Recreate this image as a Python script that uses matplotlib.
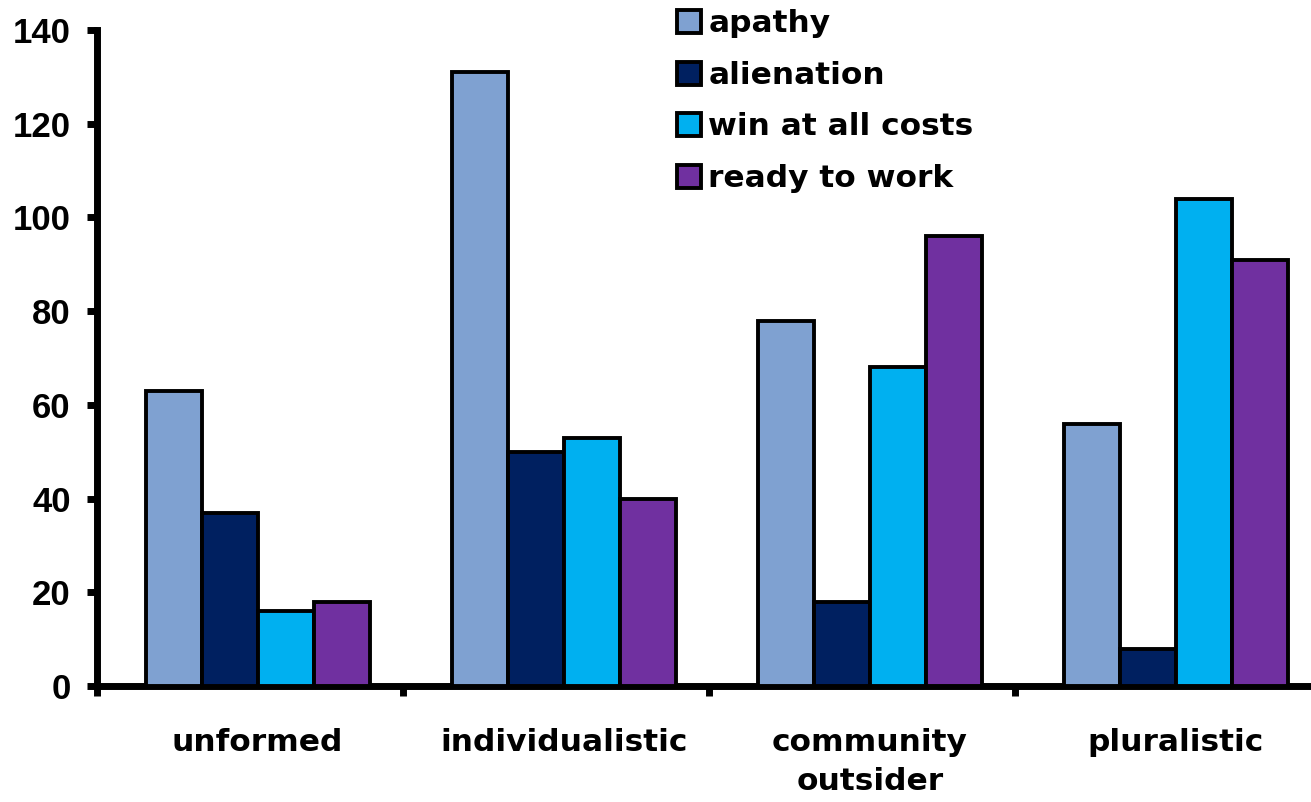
import numpy as np
import matplotlib.pyplot as plt

categories = ["unformed", "individualistic", "community\noutsider", "pluralistic"]
series_names = ["apathy", "alienation", "win at all costs", "ready to work"]
apathy = [63, 131, 78, 56]
alienation = [37, 50, 18, 8]
win_at_all_costs = [16, 53, 68, 104]
ready_to_work = [18, 40, 96, 91]
series = [apathy, alienation, win_at_all_costs, ready_to_work]
colors = ["#7FA1D1", "#002060", "#00B0F0", "#7030A0"]

fig = plt.figure(figsize=(13.11, 8.02), dpi=100)
ax = fig.add_axes([0.074, 0.1446, 0.926, 0.818])

x = np.arange(len(categories))
width = 0.183
shift = 0.025
for i, (name, vals, c) in enumerate(zip(series_names, series, colors)):
    ax.bar(x + shift + (i - 1.5) * width, vals, width, color=c, edgecolor="black",
           linewidth=2.8, label=name, zorder=3)

ax.set_xlim(-0.5, 3.467)
ax.set_ylim(0, 140)
ax.set_yticks(range(0, 141, 20))
ax.set_yticklabels([str(v) for v in range(0, 141, 20)],
                   fontfamily="Liberation Sans", fontweight="bold", fontsize=25)

# category ticks sit on the group boundaries, labels go in the middle
ax.set_xticks(np.arange(-0.5, 3.5, 1.0))
ax.set_xticklabels([])
ax.set_xticks(x + shift, minor=True)
ax.set_xticklabels(categories, minor=True, fontfamily="DejaVu Sans",
                   fontweight="bold", fontsize=22.5, linespacing=1.45)
ax.tick_params(axis="x", which="minor", length=0, pad=30)
ax.tick_params(axis="x", which="major", length=7, width=5, direction="out")
ax.tick_params(axis="y", length=7, width=5, direction="out", pad=12)

for side in ["top", "right"]:
    ax.spines[side].set_visible(False)
for side in ["left", "bottom"]:
    ax.spines[side].set_linewidth(5)

leg = fig.legend(loc="upper left", bbox_to_anchor=(0.513, 0.994), frameon=False,
                 borderpad=0.15, borderaxespad=0,
                 handlelength=0.75, handleheight=0.75, handletextpad=0.25,
                 labelspacing=0.72, prop={"family": "DejaVu Sans", "weight": "bold", "size": 22.5})
for h in leg.legend_handles:
    h.set_linewidth(2.8)

fig.savefig("out.png", dpi=100)
